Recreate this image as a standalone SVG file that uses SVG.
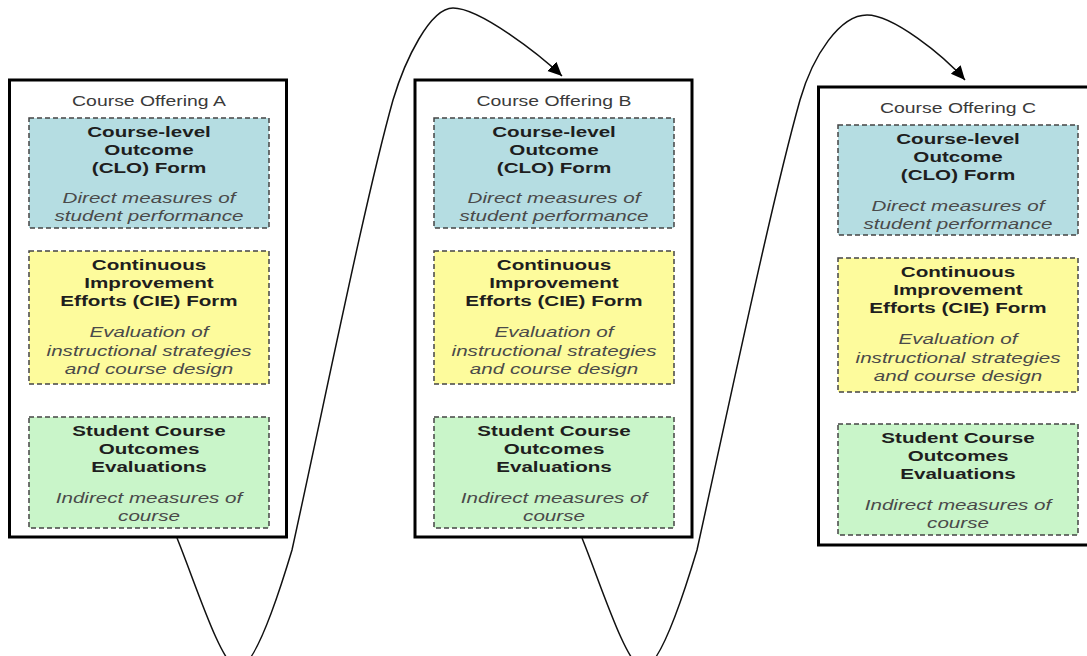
<svg xmlns="http://www.w3.org/2000/svg" width="1087" height="656" viewBox="0 0 1087 656">
<defs>
<style>
.outer{fill:#ffffff;stroke:#000;stroke-width:3}
.form{stroke:#444;stroke-width:1.5;stroke-dasharray:5 3}
.clo{fill:#b5dde2}
.cie{fill:#fdfb9c}
.sco{fill:#c9f5c9}
text{font-family:"Liberation Sans",Arial,sans-serif;text-anchor:middle}
.h{font-size:14.6px;fill:#3a3a3a}
.b{font-size:15.5px;font-weight:bold;fill:#1e1e1e}
.i{font-size:15.5px;font-style:italic;fill:#4a4a4a}
.conn{fill:none;stroke:#111;stroke-width:1.5}
</style>
<marker id="arr" markerUnits="userSpaceOnUse" markerWidth="16" markerHeight="14" refX="14" refY="6.5" orient="auto">
<path d="M0,0 L14,6.5 L0,13 z" fill="#000"/>
</marker>
</defs>
<rect width="1087" height="656" fill="#ffffff"/>

<g id="offering-a">
<rect class="outer" x="9.5" y="80" width="277" height="457"/>
<g id="a-clo"><rect class="form clo" x="29" y="118" width="240" height="110"/></g>
<g id="a-cie"><rect class="form cie" x="29" y="251" width="240" height="133"/></g>
<g id="a-sco"><rect class="form sco" x="29" y="417" width="240" height="111"/></g>
<g transform="translate(149 0) scale(1.33 1)">
<text class="h" x="0" y="106">Course Offering A</text>
<text class="b" x="0" y="137.5">Course-level</text>
<text class="b" x="0" y="155.5">Outcome</text>
<text class="b" x="0" y="173.5">(CLO) Form</text>
<text class="i" x="0" y="203.5">Direct measures of</text>
<text class="i" x="0" y="221.5">student performance</text>
<text class="b" x="0" y="270">Continuous</text>
<text class="b" x="0" y="288">Improvement</text>
<text class="b" x="0" y="306">Efforts (CIE) Form</text>
<text class="i" x="0" y="337.5">Evaluation of</text>
<text class="i" x="0" y="356">instructional strategies</text>
<text class="i" x="0" y="374.5">and course design</text>
<text class="b" x="0" y="436">Student Course</text>
<text class="b" x="0" y="454">Outcomes</text>
<text class="b" x="0" y="472">Evaluations</text>
<text class="i" x="0" y="503.5">Indirect measures of</text>
<text class="i" x="0" y="521">course</text>
</g>
</g>

<g id="offering-b">
<rect class="outer" x="415" y="80" width="277" height="457"/>
<g id="b-clo"><rect class="form clo" x="434" y="118" width="240" height="110"/></g>
<g id="b-cie"><rect class="form cie" x="434" y="251" width="240" height="133"/></g>
<g id="b-sco"><rect class="form sco" x="434" y="417" width="240" height="111"/></g>
<g transform="translate(554 0) scale(1.33 1)">
<text class="h" x="0" y="106">Course Offering B</text>
<text class="b" x="0" y="137.5">Course-level</text>
<text class="b" x="0" y="155.5">Outcome</text>
<text class="b" x="0" y="173.5">(CLO) Form</text>
<text class="i" x="0" y="203.5">Direct measures of</text>
<text class="i" x="0" y="221.5">student performance</text>
<text class="b" x="0" y="270">Continuous</text>
<text class="b" x="0" y="288">Improvement</text>
<text class="b" x="0" y="306">Efforts (CIE) Form</text>
<text class="i" x="0" y="337.5">Evaluation of</text>
<text class="i" x="0" y="356">instructional strategies</text>
<text class="i" x="0" y="374.5">and course design</text>
<text class="b" x="0" y="436">Student Course</text>
<text class="b" x="0" y="454">Outcomes</text>
<text class="b" x="0" y="472">Evaluations</text>
<text class="i" x="0" y="503.5">Indirect measures of</text>
<text class="i" x="0" y="521">course</text>
</g>
</g>

<g id="offering-c">
<rect class="outer" x="818.5" y="87" width="280" height="458"/>
<g id="c-clo"><rect class="form clo" x="838" y="125" width="240" height="110"/></g>
<g id="c-cie"><rect class="form cie" x="838" y="258" width="240" height="134"/></g>
<g id="c-sco"><rect class="form sco" x="838" y="424" width="240" height="111"/></g>
<g transform="translate(958 0) scale(1.33 1)">
<text class="h" x="0" y="113">Course Offering C</text>
<text class="b" x="0" y="144">Course-level</text>
<text class="b" x="0" y="162">Outcome</text>
<text class="b" x="0" y="180">(CLO) Form</text>
<text class="i" x="0" y="211">Direct measures of</text>
<text class="i" x="0" y="229">student performance</text>
<text class="b" x="0" y="277">Continuous</text>
<text class="b" x="0" y="295">Improvement</text>
<text class="b" x="0" y="313">Efforts (CIE) Form</text>
<text class="i" x="0" y="344.5">Evaluation of</text>
<text class="i" x="0" y="363">instructional strategies</text>
<text class="i" x="0" y="381.5">and course design</text>
<text class="b" x="0" y="443">Student Course</text>
<text class="b" x="0" y="461">Outcomes</text>
<text class="b" x="0" y="479">Evaluations</text>
<text class="i" x="0" y="510.5">Indirect measures of</text>
<text class="i" x="0" y="528">course</text>
</g>
</g>

<g id="connectors">
<path class="conn" marker-end="url(#arr)" d="M177,538 C195,582 222,668 238,668 C254,668 277,600 292,550 C325,400 365,200 393,100 C405,60 430,8 453,8 C480,8 540,55 562,76"/>
<path class="conn" marker-end="url(#arr)" d="M582,538 C600,582 627,668 643,668 C659,668 682,600 697,550 C730,400 772,200 800,100 C813,55 840,15 867,15 C893,15 943,55 965,80"/>
</g>
</svg>
